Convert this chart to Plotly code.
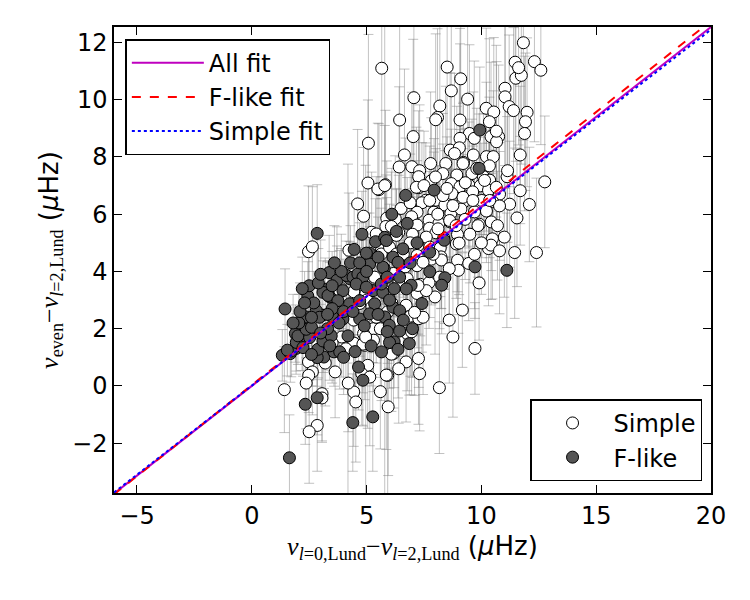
import plotly.graph_objects as go

# ---------------- data ----------------
simple_x = [11.83, 5.66, 8.51, 11.47, 12.31, 12.59, 11.50, 11.74, 11.62, 9.10, 8.69, 9.40, 7.06, 11.03, 11.03,
            11.21, 11.40, 11.99, 8.19, 8.09, 8.01, 10.21, 10.54, 6.44, 9.07, 11.92, 11.88, 10.35, 7.03, 5.08,
            10.42, 10.75, 10.66, 10.65, 9.48, 9.07, 9.69,
            8.64, 9.04, 8.83, 9.65, 10.22, 10.52, 11.69, 6.65, 7.79, 8.45, 9.22, 10.35, 6.42, 6.97, 7.31,
            7.27, 8.32, 8.93, 9.59, 10.09, 10.36, 11.12, 11.14, 12.76, 5.06, 5.82, 5.54, 7.27, 7.82, 8.69,
            9.07, 9.45, 9.95, 10.31, 11.69, 10.79, 9.62, 8.72, 7.58, 8.02, 7.41, 8.41, 9.18, 10.02, 10.49,
            11.23, 12.09, 4.61, 4.87, 7.20, 7.93, 8.67, 9.11, 9.70, 10.22, 10.79, 11.55, 5.88, 6.25, 6.96,
            7.72, 8.15, 8.64, 9.29, 9.91, 10.43, 5.22, 5.84, 6.40, 7.74, 7.20, 8.02, 8.96, 8.36, 10.48,
            5.49, 5.79, 6.08, 5.42, 10.14, 10.65, 10.36, 9.85, 8.91, 7.17, 7.75, 8.33, 8.76, 9.20, 9.63,
            8.62, 8.11, 7.60, 7.24, 7.75, 8.33, 9.20,
            11.45, 12.40, 10.31, 10.42, 10.79, 9.03, 8.21, 6.30, 5.65, 4.23, 2.47, 2.64, 7.20, 7.82, 8.24,
            8.96, 9.45, 9.00, 6.68, 7.20, 6.17, 6.77, 7.34, 7.72, 7.98, 7.20, 3.71, 4.78, 3.89, 4.44, 4.97,
            5.73, 5.97, 5.01, 4.70, 5.23, 5.92, 6.72, 6.91, 7.27, 9.17, 8.76, 9.72, 3.06, 4.44, 5.30, 3.92,
            4.87, 5.30, 4.44, 4.92, 6.77, 6.96, 6.17, 6.72, 7.26, 7.31, 5.92, 5.05, 4.79, 5.14, 3.63, 2.47,
            2.64, 2.48, 2.37, 1.42, 8.17, 4.44, 4.53, 5.94, 3.06, 3.06, 2.85, 2.50, 3.83, 5.35, 5.64, 6.00,
            6.30, 4.12, 5.42, 4.84, 4.96, 5.86, 6.08, 8.26, 7.46, 8.18, 7.60, 7.24, 7.46, 7.09,
            6.50, 6.90, 7.50, 8.00, 8.50, 9.30, 9.80, 8.10, 8.90, 9.50, 7.00, 6.60, 6.90, 7.90, 8.60,
            9.70, 10.00, 6.40, 6.10, 5.60, 4.10, 3.50, 3.20, 4.20, 6.40, 5.60, 8.60, 9.90, 10.70, 11.00]
simple_y = [11.99, 11.10, 11.14, 11.31, 11.33, 11.03, 10.75, 10.85, 11.12, 10.73, 10.31, 10.02, 10.07, 10.40, 10.10,
            9.76, 9.62, 9.56, 9.78, 9.38, 9.30, 9.70, 9.57, 9.29, 9.29, 9.23, 8.82, 9.23, 8.71, 8.48,
            8.71, 8.71, 8.53, 8.90, 8.82, 8.65, 8.65,
            8.24, 8.32, 8.12, 8.07, 8.01, 8.01, 8.07, 8.07, 7.77, 7.77, 7.81, 7.69, 7.65, 7.66, 7.52,
            7.31, 7.42, 7.37, 7.42, 7.31, 7.19, 7.31, 7.52, 7.13, 7.09, 7.03, 6.86, 6.93, 7.17, 7.07,
            6.96, 7.02, 6.99, 6.84, 6.82, 6.70, 6.78, 6.72, 6.49, 6.49, 6.40, 6.32, 6.38, 6.48, 6.44,
            6.35, 6.34, 6.36, 5.93, 6.07, 6.07, 6.03, 6.18, 6.08, 6.11, 6.29, 5.87, 5.86, 5.84, 5.91,
            5.79, 5.68, 5.73, 5.82, 5.65, 5.73, 5.37, 5.57, 5.36, 5.51, 5.62, 5.35, 5.29, 5.17, 5.14,
            6.88, 7.00, 5.57, 5.31, 7.18, 6.94, 6.48, 5.60, 4.96, 6.94, 6.48, 6.65, 6.30, 6.59, 6.48,
            5.78, 5.49, 5.20, 4.91, 4.85, 5.08, 7.77,
            4.66, 4.66, 4.80, 4.92, 4.72, 4.99, 4.82, 5.26, 4.74, 4.74, 4.69, 4.86, 4.56, 4.43, 4.51,
            4.39, 4.28, 4.04, 4.16, 4.20, 3.93, 3.75, 3.55, 3.61, 3.11, 3.23, 3.96, 3.64, 3.40, 3.29, 3.23,
            3.34, 3.14, 3.00, 2.88, 2.76, 2.59, 2.82, 2.44, 2.35, 2.65, 1.71, 1.31, 2.47, 2.30, 2.00, 1.71,
            1.83, 1.60, 1.50, 1.42, 1.83, 1.89, 1.13, 0.84, 0.96, 0.43, 0.37, 0.72, 0.43, 0.31, 0.49, 0.84,
            0.49, 0.37, 0.10, -0.13, -0.06, -0.21, -0.56, -0.73, -0.27, -0.42, -1.38, -1.60, 3.33, 3.80, 4.61, 4.85,
            4.61, 2.75, 2.40, 1.46, 1.71, 0.38, 1.11, 4.40, 4.32, 3.80, 3.33, 3.51, 2.40, 2.57,
            6.20, 6.40, 7.00, 7.30, 6.90, 7.10, 7.60, 6.00, 5.60, 5.30, 5.30, 4.60, 5.00, 4.60, 4.10,
            4.60, 5.00, 3.60, 2.90, 2.00, 1.30, 1.50, 0.80, 0.10, 0.60, -0.20, 2.30, 3.60, 5.60, 5.20]
simple_err = [3.4, 3.8, 3.6, 3.0, 2.8, 2.6, 2.9, 3.1, 2.7, 3.2, 3.5, 2.9, 3.8, 2.7, 3.2,
              2.5, 2.9, 2.6, 3.3, 3.1, 3.0, 2.8, 2.6, 3.6, 3.2, 2.4, 2.7, 2.9, 3.4, 3.8,
              2.6, 2.5, 2.8, 3.0, 3.1, 3.3, 2.7,
              2.7, 2.4, 2.8, 2.2, 2.6, 2.3, 2.4, 3.0, 2.5, 2.7, 2.1, 2.4, 2.8, 2.6, 2.3,
              2.3, 2.1, 2.4, 1.9, 2.2, 2.0, 2.1, 2.5, 2.3, 2.9, 2.6, 2.3, 2.0, 2.2, 1.9,
              2.0, 2.2, 1.7, 2.1, 1.9, 1.8, 1.9, 1.7, 2.0, 1.8, 2.1, 1.9, 1.7, 2.0, 1.8,
              2.2, 2.0, 2.6, 2.4, 1.8, 2.1, 1.9, 1.7, 2.0, 1.8, 1.9, 2.4, 2.0, 2.2, 1.9,
              1.7, 2.0, 1.8, 2.1, 1.9, 1.7, 2.1, 1.8, 2.0, 1.8, 1.9, 1.7, 2.0, 1.8, 2.1,
              2.3, 2.1, 1.9, 2.0, 1.9, 1.8, 2.0, 1.8, 1.9, 2.1, 1.9, 1.8, 2.0, 1.7, 1.9,
              1.8, 1.9, 1.7, 1.8, 1.9, 1.7, 2.1,
              2.3, 2.6, 2.0, 1.9, 2.2, 1.8, 1.7, 1.6, 1.8, 2.0, 2.3, 2.1, 1.7, 1.6, 1.8,
              1.9, 2.0, 2.2, 1.5, 1.6, 1.5, 1.7, 1.8, 1.6, 2.0, 1.9, 1.6, 1.5, 1.4, 1.5, 1.6,
              1.5, 1.7, 1.4, 1.5, 1.6, 1.8, 1.9, 2.1, 2.4, 2.0, 2.8, 1.6, 1.3, 1.5, 1.6, 1.4,
              1.7, 1.8, 1.6, 1.9, 2.0, 2.2, 1.9, 2.1, 2.3, 2.0, 4.5, 2.2, 1.8, 2.4, 1.6, 1.4,
              1.5, 1.3, 1.6, 1.5, 2.3, 1.9, 2.1, 2.4, 1.7, 1.5, 1.6, 1.8, 1.4, 1.5, 1.6, 1.5,
              1.7, 1.4, 1.6, 1.7, 6.0, 2.6, 2.0, 1.7, 1.6, 1.8, 1.9, 1.7, 2.7, 2.9,
              1.8, 1.7, 1.9, 2.0, 1.8, 1.9, 2.1, 1.7, 1.6, 1.7, 1.6, 1.5, 1.6, 1.7, 1.8,
              1.9, 1.8, 1.5, 1.6, 1.7, 1.4, 1.4, 1.5, 1.7, 1.9, 2.0, 2.2, 2.0, 1.9, 2.1]

flike_x = [9.93, 6.70, 7.94, 9.90, 2.85, 4.46, 5.39, 5.79, 6.77, 8.38, 9.72, 11.11, 8.41, 8.27, 3.37,
           3.71, 4.26, 5.77, 6.94, 7.75, 2.44, 3.20, 3.40, 1.45, 2.37, 7.41, 5.79, 5.99, 6.86, 6.20,
           5.65, 1.90, 2.19, 1.93, 1.33, 1.68, 3.14, 2.85, 3.58, 3.83, 4.65, 4.84, 2.85, 2.33, 4.40,
           5.27, 1.64, 5.13, 5.86, 6.15, 6.37, 6.58, 5.71, 5.13, 4.99, 4.12, 4.41, 4.62, 4.84, 4.55,
           5.28, 5.71, 5.64, 4.99, 3.97, 3.10, 3.32, 3.75, 4.26, 4.70, 5.35, 6.15, 6.44, 2.81, 2.95,
           3.53, 3.97, 4.70, 5.13, 6.73, 6.44, 1.72, 1.94, 2.23, 2.01, 2.52, 2.88, 3.10, 3.46, 4.19,
           2.37, 6.00, 6.37, 6.44, 7.75, 1.55, 2.05, 2.60, 3.30, 2.70, 3.00, 3.50, 4.00,
           2.10, 2.50, 2.90, 3.50, 3.90, 4.30, 4.70, 5.50, 5.00, 5.90, 6.20, 6.00, 5.50, 4.90, 4.40,
           3.80, 3.30, 2.60, 2.30, 1.80, 3.40, 4.00, 4.50, 2.60, 5.20, 5.90, 6.60, 7.00, 6.90, 7.20,
           6.30, 6.10, 3.00, 3.60, 4.80, 2.20]
flike_y = [8.94, 6.66, 6.84, 7.60, 5.33, 4.77, 5.04, 5.19, 5.68, 5.09, 4.16, 4.04, 3.78, 3.52, 3.96,
           3.69, 3.75, 4.10, 3.52, 3.99, 3.14, 3.37, 3.11, 2.69, 2.41, 2.88, 2.41, 2.12, 1.48, 1.54,
           1.19, 1.83, 1.54, 1.31, 1.07, 1.13, 1.01, 0.99, 1.19, 1.19, 0.66, 0.20, -0.41, -0.64, -1.28,
           -1.08, -2.51, 4.64, 5.08, 4.50, 4.32, 4.79, 4.15, 4.26, 4.64, 3.86, 3.80, 3.91, 3.80, 3.56,
           3.33, 3.27, 3.56, 3.45, 3.33, 3.27, 3.16, 2.98, 2.87, 2.98, 2.87, 2.75, 2.63, 2.63, 2.40,
           2.40, 2.34, 2.34, 2.52, 3.39, 3.80, 1.22, 1.52, 1.34, 1.75, 1.69, 1.28, 1.57, 1.75, 1.75,
           1.98, 1.52, 1.28, 1.92, 4.67, 1.25, 2.20, 2.05, 2.00, 2.90, 1.85, 2.70, 2.60,
           2.60, 3.50, 3.60, 3.50, 4.00, 4.30, 4.30, 4.50, 4.00, 3.80, 3.40, 3.00, 2.50, 2.10, 2.60,
           2.20, 2.50, 2.40, 2.90, 2.20, 1.40, 1.00, 1.20, 1.10, 1.40, 1.90, 2.30, 2.00, 4.30, 5.00,
           5.40, 6.00, 3.90, 4.30, 5.30, 3.40]
flike_err = [2.2, 2.0, 1.8, 1.9, 1.7, 1.6, 1.5, 9.0, 1.6, 1.7, 1.8, 2.0, 1.6, 1.7, 1.3,
             1.2, 1.3, 1.4, 1.5, 1.6, 1.2, 1.1, 1.2, 1.4, 1.1, 1.7, 1.4, 1.5, 1.8, 1.6,
             1.7, 1.0, 1.0, 0.9, 0.9, 1.0, 1.1, 1.0, 1.2, 1.3, 1.5, 1.6, 1.3, 1.4, 1.7,
             1.9, 1.5, 1.4, 1.5, 1.4, 1.5, 1.6, 1.3, 1.3, 1.4, 1.2, 1.2, 1.3, 1.3, 1.2,
             1.3, 1.4, 1.3, 1.2, 1.1, 1.1, 1.2, 1.1, 1.2, 1.2, 1.3, 1.5, 1.6, 1.0, 1.1,
             1.1, 1.2, 1.3, 1.3, 1.5, 1.4, 0.9, 1.0, 1.0, 1.0, 1.1, 1.0, 1.1, 1.2, 6.0,
             1.0, 1.6, 1.7, 1.5, 1.6, 0.9, 1.0, 1.0, 1.1, 1.1, 1.0, 1.1, 1.2,
             1.0, 1.1, 1.2, 1.2, 1.3, 1.3, 1.4, 1.4, 1.3, 1.4, 1.5, 1.4, 1.3, 1.3, 1.2,
             1.2, 1.1, 1.0, 1.1, 1.0, 1.2, 1.3, 1.3, 1.1, 1.4, 1.5, 1.6, 1.7, 1.5, 1.6,
             1.5, 1.6, 1.2, 1.3, 1.5, 1.1]

# linear fits: (slope, intercept)
fit_names = ["All fit", "F-like fit", "Simple fit"]
fit_slopes = [0.627, 0.636, 0.622]
fit_intercepts = [0.0, 0.03, 0.01]

x_range = [-6, 20]
y_range = [-3.74, 12.54]
x_ticks = [-5, 0, 5, 10, 15, 20]
y_ticks = [-2, 0, 2, 4, 6, 8, 10, 12]

# ---------------- figure ----------------
fig = go.Figure()
ebar = dict(type="data", visible=True, color="rgba(120,120,120,0.45)", thickness=1, width=5)

# error bars underneath everything
for xs, ys, es in [(simple_x, simple_y, simple_err), (flike_x, flike_y, flike_err)]:
    fig.add_trace(go.Scatter(x=xs, y=ys, mode="markers", showlegend=False, hoverinfo="skip",
                             marker=dict(size=1, opacity=0),
                             error_y=dict(array=es, **ebar)))

fig.add_trace(go.Scatter(x=simple_x, y=simple_y, mode="markers", name="Simple", legend="legend2",
                         marker=dict(size=12, color="white", line=dict(color="black", width=1))))
fig.add_trace(go.Scatter(x=flike_x, y=flike_y, mode="markers", name="F-like", legend="legend2",
                         marker=dict(size=12, color="#555555", line=dict(color="black", width=1))))

styles = [dict(color="#bf00bf", width=2, dash="solid"),
          dict(color="#ff0000", width=2, dash="dash"),
          dict(color="#0000ff", width=2, dash="dot")]
for name, m, b, st in zip(fit_names, fit_slopes, fit_intercepts, styles):
    fig.add_trace(go.Scatter(x=x_range, y=[m * x_range[0] + b, m * x_range[1] + b], mode="lines",
                             name=name, legendgroup=name, line=st, legend="legend"))

serif = "font-family:Liberation Serif"
xtitle = (f'<span style="{serif}"><i>ν</i><sub><i>l</i>=0,Lund</sub>−<i>ν</i><sub><i>l</i>=2,Lund</sub></span>'
          ' (<i>μ</i>Hz)')
ytitle = (f'<span style="{serif}"><i>ν</i><sub>even</sub>−<i>ν</i><sub><i>l</i>=2,Lund</sub></span>'
          ' (<i>μ</i>Hz)')

axis_common = dict(showline=True, linecolor="black", linewidth=1.5, mirror="ticks", ticks="inside",
                   ticklen=8, tickwidth=1.2, tickcolor="black", showgrid=False, zeroline=False,
                   tickfont=dict(size=24, color="black"))

fig.update_layout(
    width=750, height=600,
    margin=dict(l=114, r=39, t=27, b=107),
    paper_bgcolor="white", plot_bgcolor="white",
    font=dict(family="DejaVu Sans", size=24, color="black"),
    xaxis=dict(range=x_range, tickvals=x_ticks, title=dict(text=xtitle, font=dict(size=26), standoff=8),
               **axis_common),
    yaxis=dict(range=y_range, tickvals=y_ticks, title=dict(text=ytitle, font=dict(size=26), standoff=6),
               **axis_common),
    legend=dict(x=0.019, y=0.974, xanchor="left", yanchor="top", bgcolor="white",
                bordercolor="black", borderwidth=1.5, font=dict(size=24), itemwidth=72,
                tracegroupgap=4, traceorder="normal"),
    legend2=dict(x=0.985, y=0.025, xanchor="right", yanchor="bottom", bgcolor="white",
                 bordercolor="black", borderwidth=1.5, font=dict(size=24), itemwidth=72,
                 tracegroupgap=8),
)

fig.write_html("out.html")
